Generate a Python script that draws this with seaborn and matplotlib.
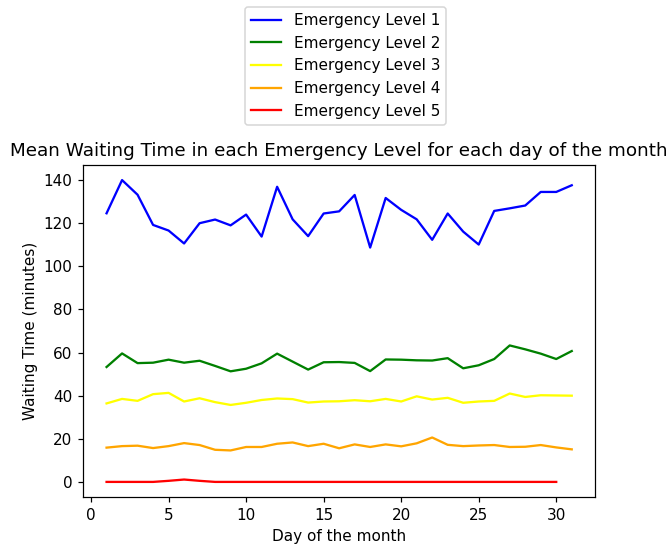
import matplotlib
matplotlib.use("Agg")
import matplotlib.pyplot as plt
import seaborn as sns
import pandas as pd

days = list(range(1, 32))
days_l5 = list(range(1, 31))

level1 = [124.6, 140.0, 133.2, 119.2, 116.6, 110.6, 120.0, 121.7, 119.0, 124.0,
          113.8, 136.9, 121.8, 114.0, 124.5, 125.5, 133.1, 108.7, 131.7, 126.2,
          121.8, 112.3, 124.5, 116.1, 110.1, 125.7, 126.9, 128.2, 134.5, 134.5, 137.6]
level2 = [53.3, 59.6, 55.1, 55.3, 56.7, 55.3, 56.2, 53.8, 51.3, 52.5,
          55.0, 59.5, 55.8, 52.1, 55.5, 55.6, 55.2, 51.4, 56.8, 56.7,
          56.4, 56.3, 57.4, 52.7, 54.1, 57.0, 63.3, 61.5, 59.5, 57.0, 60.7]
level3 = [36.4, 38.5, 37.6, 40.7, 41.3, 37.3, 38.8, 37.0, 35.7, 36.7,
          38.0, 38.7, 38.4, 36.8, 37.3, 37.4, 37.9, 37.4, 38.5, 37.3,
          39.7, 38.2, 39.0, 36.7, 37.3, 37.6, 41.0, 39.4, 40.2, 40.1, 40.0]
level4 = [15.9, 16.6, 16.8, 15.7, 16.6, 18.0, 17.1, 14.9, 14.6, 16.2,
          16.2, 17.7, 18.3, 16.6, 17.7, 15.6, 17.4, 16.2, 17.4, 16.5,
          17.9, 20.6, 17.2, 16.6, 16.9, 17.1, 16.2, 16.3, 17.1, 16.0, 15.1]
level5 = [0.0, 0.0, 0.0, 0.0, 0.5, 1.1, 0.5, 0.0, 0.0, 0.0,
          0.0, 0.0, 0.0, 0.0, 0.0, 0.0, 0.0, 0.0, 0.0, 0.0,
          0.0, 0.0, 0.0, 0.0, 0.0, 0.0, 0.0, 0.0, 0.0, 0.0]

level_names = ["Emergency Level 1", "Emergency Level 2", "Emergency Level 3",
               "Emergency Level 4", "Emergency Level 5"]
level_colors = ["blue", "green", "yellow", "orange", "red"]

rows = []
for name, d, vals in zip(level_names, [days, days, days, days, days_l5],
                         [level1, level2, level3, level4, level5]):
    for x, v in zip(d, vals):
        rows.append({"Day": x, "Wait": v, "Level": name})
df = pd.DataFrame(rows)

DPI = 110
fig = plt.figure(figsize=(670 / DPI, 545 / DPI), dpi=DPI)
ax = fig.add_axes([83.3 / 670, 1 - 497 / 545, (595 - 83.3) / 670, (497 - 165) / 545])

sns.lineplot(data=df, x="Day", y="Wait", hue="Level", hue_order=level_names,
             palette=dict(zip(level_names, level_colors)), ax=ax, linewidth=1.5)

ax.set_title("Mean Waiting Time in each Emergency Level for each day of the month", fontsize=12)
ax.set_xlabel("Day of the month")
ax.set_ylabel("Waiting Time (minutes)")
ax.set_xticks([0, 5, 10, 15, 20, 25, 30])
ax.set_yticks([0, 20, 40, 60, 80, 100, 120, 140])

handles, labels = ax.get_legend_handles_labels()
ax.legend(handles, labels, loc="upper center", bbox_to_anchor=(345.5 / 670, 1 - 7 / 545),
          bbox_transform=fig.transFigure, borderaxespad=0, fontsize=10)

fig.savefig("out.png", dpi=DPI)
